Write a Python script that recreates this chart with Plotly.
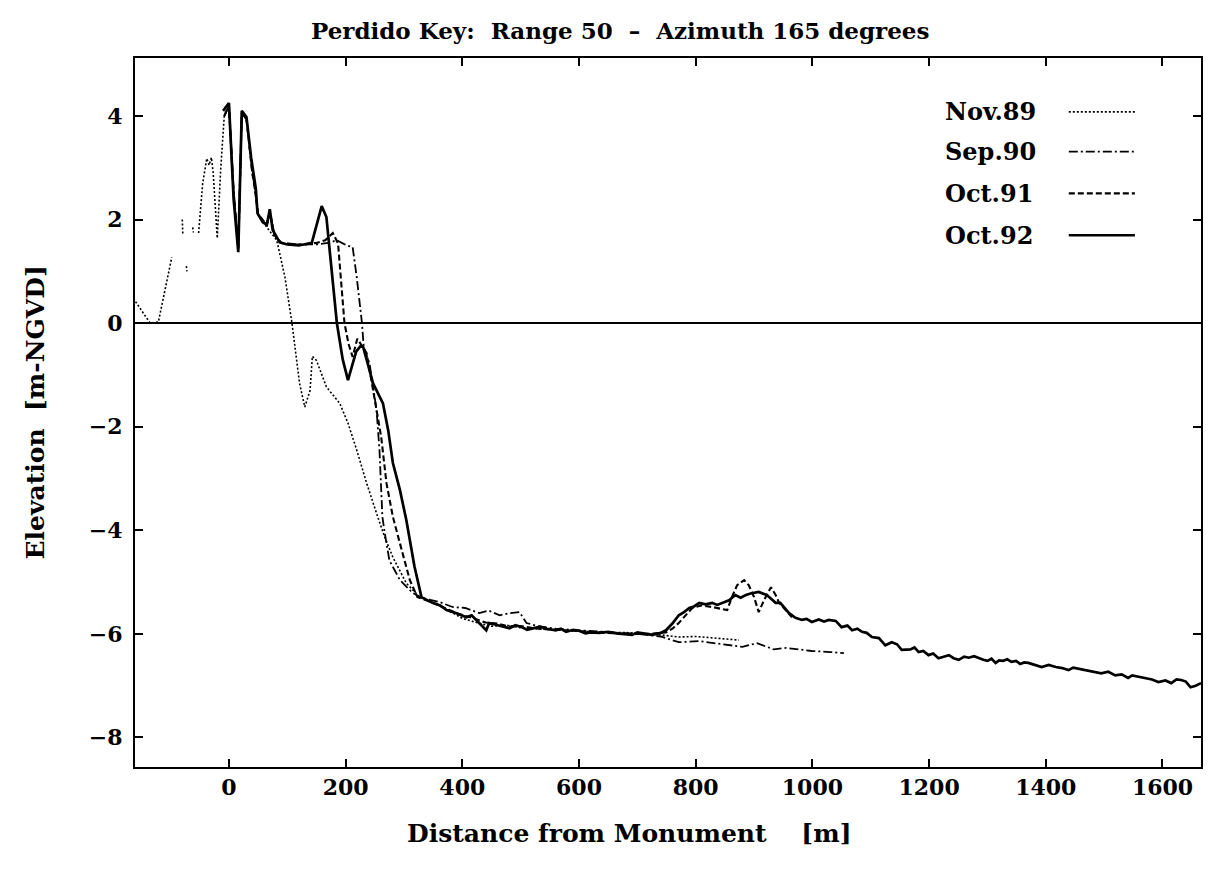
import plotly.graph_objects as go

# ---------------- data ----------------
nov89_x = [-164, -135, -121, -98, None, -80, -79, None, -73, -72, None, -62, -61, None,
           -52, -45, -38, -34, -30, -27, -20, -14, -8, 0, 8, 16, 22, 30, 43, 50, 65, 72,
           82, 96, 108, 121, 130, 139, 143, 150, 167, 190, 204, 219, 236, 255, 267, 281,
           304, 327, 360, 400, 430, 450, 480, 500, 550, 600, 650, 700, 740, 771, 800, 828, 874]
nov89_y = [0.48, 0.0, 0.02, 1.27, None, 2.0, 1.7, None, 1.1, 1.0, None, 1.85, 1.75, None,
           1.74, 2.7, 3.18, 3.05, 3.2, 2.9, 1.64, 3.0, 4.0, 4.2, 2.5, 1.4, 4.0, 3.95, 2.7, 2.1, 1.85, 1.75,
           1.6, 0.89, 0.0, -1.16, -1.62, -1.3, -0.64, -0.72, -1.23, -1.55, -1.93, -2.45, -3.09, -3.74, -4.13, -4.52,
           -5.02, -5.29, -5.45, -5.7, -5.8, -5.85, -5.84, -5.88, -5.92, -5.95, -5.97, -5.98, -6.02, -6.06, -6.05, -6.08, -6.12]

sep90_x = [-8, 0, 8, 16, 22, 30, 40, 45, 50, 65, 70, 78, 90, 120, 150, 170, 185, 202, 212, 219, 228,
           231, 241, 253, 258, 263, 267, 275, 293, 315, 332, 360, 383, 405, 429, 445, 464, 481, 498,
           510, 530, 560, 600, 650, 700, 740, 771, 806, 845, 880, 905, 934, 955, 999, 1030, 1054]
sep90_y = [4.0, 4.2, 2.6, 1.45, 4.05, 3.95, 2.9, 2.6, 2.1, 1.9, 2.15, 1.7, 1.55, 1.52, 1.52, 1.55, 1.6, 1.5, 1.47, 0.89, 0.0,
           -0.46, -0.78, -1.68, -2.45, -3.74, -4.05, -4.58, -4.96, -5.21, -5.31, -5.38, -5.48, -5.5, -5.6, -5.55, -5.64, -5.6, -5.58,
           -5.79, -5.85, -5.9, -5.93, -5.97, -6.0, -6.05, -6.16, -6.14, -6.2, -6.25, -6.18, -6.3, -6.27, -6.33, -6.35, -6.37]

oct91_x = [-8, 0, 8, 16, 22, 30, 40, 45, 50, 65, 70, 78, 90, 110, 130, 150, 165, 178, 187, 198, 205,
           212, 220, 236, 253, 261, 270, 281, 293, 310, 323, 345, 370, 395, 420, 440, 460, 480, 500,
           530, 560, 600, 640, 680, 720, 749, 760, 771, 794, 810, 828, 845, 854, 862, 871, 883, 891,
           900, 908, 917, 929, 937, 943, 955, 965]
oct91_y = [4.0, 4.2, 2.5, 1.45, 4.05, 3.95, 2.9, 2.55, 2.1, 1.9, 2.15, 1.7, 1.55, 1.52, 1.52, 1.55, 1.6, 1.74, 1.54, 0.0, -0.4,
           -0.65, -0.3, -0.58, -1.68, -2.2, -3.09, -3.74, -4.25, -4.96, -5.29, -5.38, -5.5, -5.62, -5.7, -5.78, -5.8, -5.86, -5.85,
           -5.9, -5.92, -5.95, -5.97, -6.0, -6.0, -5.97, -5.9, -5.79, -5.5, -5.45, -5.48, -5.52, -5.54, -5.29, -5.06, -4.96, -5.06,
           -5.29, -5.58, -5.35, -5.1, -5.25, -5.4, -5.55, -5.68]

oct92_x = [-10, 0, 8, 16, 22, 30, 38, 43, 46, 49, 58, 65, 70, 75, 87, 100, 120, 142, 159, 167, 176, 185,
           195, 204, 218, 225, 230, 247, 264, 273, 281, 293, 304, 318, 330, 349, 362, 373, 390, 407, 416, 425, 441,
           446, 465, 481, 491, 500, 511, 520, 533, 545, 560, 569, 578, 590, 600, 611, 620, 635, 650, 664, 680, 691, 700, 710, 725, 740, 749,
           760, 771, 780, 789, 797, 806, 817, 828, 837, 845, 857, 868, 877, 886, 894, 908, 922, 937, 945, 960, 971, 982, 990, 999,
           1011, 1020, 1028, 1040, 1050, 1060, 1068, 1077, 1085, 1093, 1102, 1114, 1125, 1136, 1145, 1153, 1168, 1175, 1182, 1190, 1199, 1207, 1216, 1225, 1234,
           1242, 1251, 1260, 1268, 1277, 1285, 1293, 1300, 1307, 1314, 1320, 1327, 1334, 1341, 1349, 1356, 1363, 1370, 1382, 1393, 1405, 1417, 1428, 1439, 1447, 1455, 1468, 1475, 1482,
           1495, 1507, 1519, 1530, 1541, 1548, 1556, 1570, 1582, 1593, 1605, 1615, 1624, 1632, 1640, 1648, 1657, 1666]
oct92_y = [4.1, 4.25, 2.4, 1.37, 4.1, 3.98, 3.2, 2.76, 2.6, 2.12, 1.95, 1.9, 2.2, 1.8, 1.56, 1.52, 1.5, 1.55, 2.26, 2.05, 1.0, 0.0,
           -0.7, -1.1, -0.55, -0.45, -0.46, -1.16, -1.55, -2.07, -2.7, -3.22, -3.8, -4.7, -5.29, -5.4, -5.45, -5.54, -5.6, -5.68, -5.64, -5.75, -5.93,
           -5.79, -5.85, -5.89, -5.83, -5.86, -5.92, -5.89, -5.86, -5.9, -5.93, -5.9, -5.96, -5.92, -5.94, -5.99, -5.97, -5.98, -5.96, -5.99, -6.0, -6.02, -5.97, -5.99, -6.02, -5.98, -5.93,
           -5.8, -5.64, -5.58, -5.5, -5.47, -5.4, -5.43, -5.4, -5.44, -5.4, -5.35, -5.25, -5.3, -5.25, -5.22, -5.19, -5.25, -5.4, -5.4, -5.6, -5.69, -5.73, -5.71, -5.77,
           -5.72, -5.76, -5.73, -5.75, -5.87, -5.84, -5.93, -5.9, -5.96, -5.98, -6.06, -6.08, -6.22, -6.16, -6.2, -6.31, -6.3, -6.26, -6.35, -6.33, -6.41, -6.38, -6.47, -6.44, -6.41,
           -6.47, -6.5, -6.44, -6.46, -6.43, -6.47, -6.5, -6.52, -6.48, -6.56, -6.51, -6.52, -6.49, -6.54, -6.52, -6.58, -6.55, -6.56, -6.6, -6.64, -6.6, -6.64, -6.66, -6.7, -6.65, -6.67, -6.7, -6.72, -6.74,
           -6.76, -6.73, -6.8, -6.78, -6.85, -6.8, -6.82, -6.85, -6.88, -6.93, -6.9, -6.95, -6.88, -6.89, -6.92, -7.03, -7.0, -6.95]

series_names = ["Nov.89", "Sep.90", "Oct.91", "Oct.92"]
x_ticks = [0, 200, 400, 600, 800, 1000, 1200, 1400, 1600]
y_ticks = [4, 2, 0, -2, -4, -6, -8]

# ---------------- styles ----------------
FONT = "DejaVu Serif"
styles = [
    dict(width=1.6, dash="2px,2px"),
    dict(width=1.8, dash="9px,3px,2px,3px"),
    dict(width=2.1, dash="6px,3px"),
    dict(width=2.7, dash="solid"),
]
data = [(nov89_x, nov89_y), (sep90_x, sep90_y), (oct91_x, oct91_y), (oct92_x, oct92_y)]

fig = go.Figure()
for (xs, ys), name, st in zip(data, series_names, styles):
    fig.add_trace(go.Scatter(x=xs, y=ys, mode="lines", name=name,
                             line=dict(color="black", width=st["width"], dash=st["dash"]),
                             connectgaps=False, showlegend=False))

# legend drawn as text + sample line (text to the left of the sample, as in the reference)
leg_y = [0.924, 0.868, 0.809, 0.750]
for name, st, yy in zip(series_names, styles, leg_y):
    fig.add_annotation(x=0.758, y=yy, xref="paper", yref="paper", text=name, showarrow=False,
                       xanchor="left", yanchor="middle",
                       font=dict(family=FONT, size=24, color="black", weight="bold"))
    fig.add_shape(type="line", xref="paper", yref="paper", x0=0.876, x1=0.938, y0=yy, y1=yy,
                  line=dict(color="black", width=st["width"], dash=st["dash"]))

fig.add_annotation(x=0.455, y=1.0, xref="paper", yref="paper", yshift=28,
                   text="Perdido Key:\u00a0\u00a0Range 50\u00a0\u00a0–\u00a0\u00a0Azimuth 165 degrees",
                   showarrow=False, xanchor="center", yanchor="middle",
                   font=dict(family=FONT, size=23, color="black", weight="bold"))
fig.add_annotation(x=0.463, y=0.0, xref="paper", yref="paper", yshift=-66,
                   text="Distance from Monument\u00a0\u00a0\u00a0\u00a0[m]",
                   showarrow=False, xanchor="center", yanchor="middle",
                   font=dict(family=FONT, size=25, color="black", weight="bold"))
fig.add_annotation(x=0.0, y=0.50, xref="paper", yref="paper", xshift=-100,
                   text="Elevation\u00a0\u00a0[m-NGVD]", textangle=-90,
                   showarrow=False, xanchor="center", yanchor="middle",
                   font=dict(family=FONT, size=25, color="black", weight="bold"))

fig.update_layout(
    width=1209, height=877,
    margin=dict(l=135, r=6, t=58, b=110),
    plot_bgcolor="white", paper_bgcolor="white",
    font=dict(family=FONT, size=22, color="black", weight="bold"),
    showlegend=False,
)
fig.update_xaxes(range=[-161, 1666], tickvals=x_ticks, showgrid=False, zeroline=False,
                 showline=True, linecolor="black", linewidth=2, mirror="allticks",
                 ticks="inside", ticklen=8, tickwidth=1.5, tickcolor="black",
                 tickfont=dict(family=FONT, size=22, color="black", weight="bold"))
fig.update_yaxes(range=[-8.57, 5.12], tickvals=y_ticks, showgrid=False,
                 zeroline=True, zerolinecolor="black", zerolinewidth=2,
                 showline=True, linecolor="black", linewidth=2, mirror="allticks",
                 ticks="inside", ticklen=8, tickwidth=1.5, tickcolor="black", ticklabelstandoff=6,
                 tickfont=dict(family=FONT, size=22, color="black", weight="bold"))

fig.write_html("out.html")
